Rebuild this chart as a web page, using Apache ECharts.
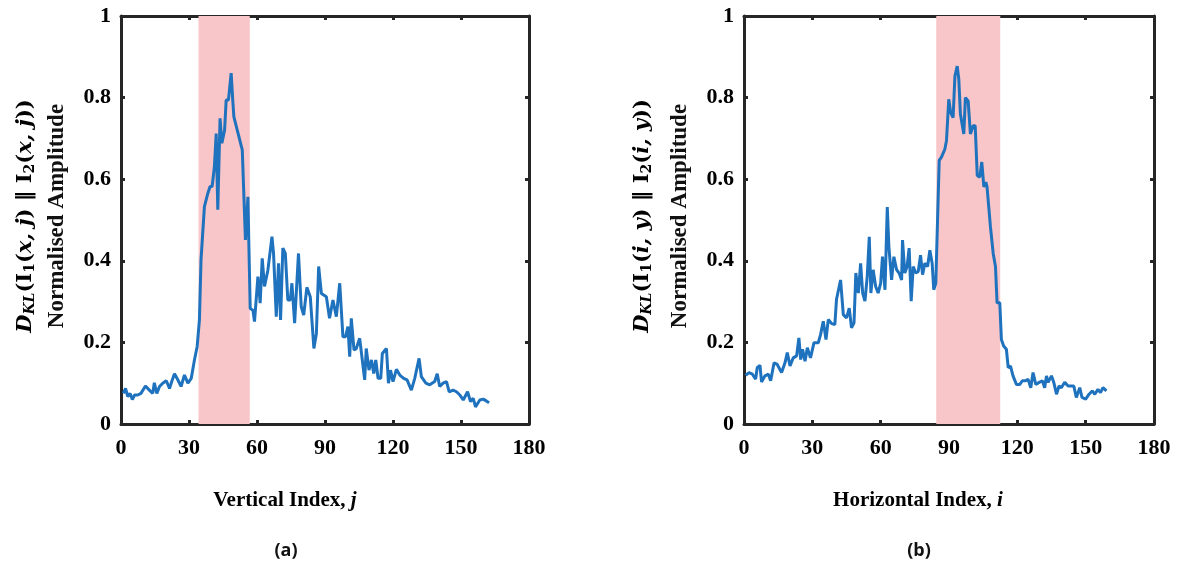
<!DOCTYPE html>
<html>
<head>
<meta charset="utf-8">
<script src="https://cdn.jsdelivr.net/npm/echarts@6/dist/echarts.min.js"></script>
<style>
html,body{margin:0;padding:0;background:#fff;}
#chart{width:1182px;height:567px;}
</style>
</head>
<body>
<div id="chart"></div>
<script>
// ---- data ----
const xTickInterval = 30;
const yTickInterval = 0.2;
const leftBand = [34.2, 56.8];
const rightBand = [84.4, 112.5];

// Panel (a): [vertical index j, normalised amplitude]
const leftSeries = [[1,0.075],[2,0.087],[3,0.067],[4,0.075],[5,0.06],[6,0.071],[7.4,0.071],[8.8,0.075],[10.8,0.093],[12.5,0.083],[14,0.075],[14.7,0.101],[15.8,0.075],[17,0.092],[18.4,0.1],[20,0.106],[21.4,0.087],[22.5,0.106],[23.6,0.123],[25,0.109],[26.5,0.092],[28,0.12],[29.5,0.1],[31,0.112],[32.4,0.157],[33.6,0.19],[34.6,0.255],[35.3,0.402],[36.8,0.533],[38.3,0.565],[39.3,0.582],[40.2,0.582],[41.2,0.63],[42,0.712],[42.7,0.525],[43.7,0.749],[44.5,0.688],[45.7,0.72],[46.4,0.794],[47.4,0.794],[48.6,0.86],[49.3,0.794],[49.8,0.753],[53.5,0.672],[54.9,0.451],[56,0.557],[56.4,0.443],[57,0.283],[58.2,0.279],[58.9,0.251],[60.4,0.361],[61.4,0.296],[62.3,0.406],[63.3,0.337],[64.8,0.377],[66.6,0.459],[67.3,0.418],[68.5,0.263],[69.5,0.394],[70.4,0.255],[71.4,0.431],[72.5,0.418],[73.6,0.304],[74.7,0.304],[75.4,0.345],[76.6,0.247],[78.3,0.418],[79.5,0.288],[80.6,0.267],[82,0.335],[83.5,0.312],[85.1,0.185],[86.2,0.222],[87.2,0.386],[88.4,0.32],[90.6,0.312],[92,0.259],[93.5,0.304],[95,0.263],[96.5,0.345],[97.9,0.214],[99.1,0.214],[100.1,0.239],[100.9,0.165],[101.6,0.259],[102.8,0.181],[103.8,0.185],[105.3,0.21],[107.5,0.108],[108.2,0.185],[109.4,0.132],[110.5,0.157],[111.5,0.124],[112.4,0.157],[113.4,0.112],[114.6,0.112],[115.3,0.173],[117.1,0.185],[118,0.1],[118.9,0.132],[120,0.104],[121.5,0.134],[123,0.12],[124.7,0.112],[126.2,0.108],[128.1,0.083],[129.6,0.112],[131.5,0.161],[132.5,0.116],[134.5,0.1],[136.2,0.096],[138.4,0.104],[139.5,0.123],[140.6,0.092],[142.1,0.1],[143.6,0.104],[144.8,0.079],[146.5,0.083],[148,0.079],[149.5,0.071],[151,0.059],[152.9,0.079],[154.2,0.055],[155.4,0.063],[156.4,0.042],[158.3,0.059],[159.8,0.061],[161.3,0.056],[162.4,0.052]];

// Panel (b): [horizontal index i, normalised amplitude]
const rightSeries = [[0.7,0.119],[2.2,0.126],[3.7,0.122],[5.1,0.11],[5.8,0.138],[7,0.144],[7.7,0.103],[9.2,0.118],[10.7,0.122],[11.7,0.106],[13.2,0.15],[14.6,0.146],[16.5,0.126],[18,0.15],[19,0.175],[20.2,0.142],[21.6,0.162],[23.1,0.167],[24.1,0.211],[24.9,0.158],[25.7,0.183],[26.8,0.154],[27.8,0.187],[29.2,0.162],[30.7,0.199],[32.6,0.199],[33.6,0.219],[34.8,0.252],[36,0.207],[37,0.256],[38.5,0.246],[39.9,0.244],[40.6,0.305],[42.4,0.353],[43.6,0.268],[45,0.26],[46.2,0.284],[47.2,0.236],[48.3,0.248],[49.1,0.37],[50.2,0.321],[51.2,0.394],[52.1,0.321],[53.1,0.301],[54.1,0.361],[55,0.459],[55.7,0.321],[56.7,0.378],[57.8,0.337],[58.9,0.321],[60,0.345],[60.8,0.41],[61.9,0.329],[62.9,0.532],[63.6,0.435],[64.8,0.353],[65.8,0.41],[67,0.378],[68.1,0.37],[69.2,0.353],[69.6,0.451],[70.6,0.37],[71.6,0.386],[72.5,0.431],[73.4,0.301],[74.3,0.386],[75.4,0.37],[76.5,0.374],[77.5,0.414],[78.4,0.366],[79.4,0.394],[80.6,0.386],[81.6,0.426],[82.6,0.394],[83.3,0.329],[84.2,0.345],[85.7,0.646],[86.7,0.654],[88.2,0.674],[88.9,0.695],[89.9,0.796],[90.7,0.764],[91.8,0.751],[92.6,0.853],[93.6,0.877],[94.3,0.845],[95,0.76],[96.5,0.711],[97.2,0.8],[98.4,0.792],[99.4,0.711],[100.6,0.731],[101.5,0.731],[102.4,0.609],[103.5,0.605],[104.4,0.642],[105.3,0.581],[106.2,0.593],[106.7,0.581],[108.2,0.483],[109.4,0.418],[110.4,0.386],[111.1,0.297],[112.3,0.297],[113,0.207],[114,0.191],[115.2,0.183],[116,0.138],[117,0.142],[118.1,0.118],[119.6,0.097],[121.1,0.097],[122.2,0.106],[123.7,0.106],[124.7,0.11],[125.9,0.089],[126.9,0.126],[128.1,0.097],[129.6,0.102],[131,0.106],[132,0.089],[132.8,0.118],[133.5,0.102],[135,0.118],[136,0.102],[137.2,0.073],[138.3,0.093],[139.3,0.089],[140.8,0.102],[142.3,0.093],[143.7,0.093],[144.8,0.093],[145.9,0.065],[147.4,0.089],[148.4,0.065],[150,0.061],[151.5,0.073],[152.9,0.081],[154,0.073],[155.4,0.085],[156.5,0.077],[157.6,0.089],[159.1,0.081]];

const xNames = ['Vertical Index, ', 'Horizontal Index, '];
const xVars = ['j', 'i'];
const panelLabels = ['(a)', '(b)'];

// ---- styling ----
const FRAME = '#262626';
const LINE = '#1f72bd';
const BAND = '#f8c5c8';
const SERIF = '"Liberation Serif", "Times New Roman", serif';
const MATH = '"DejaVu Serif", "Liberation Serif", serif';

const chart = echarts.init(document.getElementById('chart'), null, {renderer: 'canvas'});

function xAxes(gi) {
  return [
    {gridIndex: gi, type: 'value', position: 'bottom', min: 0, max: 180, interval: xTickInterval,
     axisLine: {show: true, onZero: false, lineStyle: {color: FRAME, width: 3}},
     axisTick: {show: true, inside: true, length: 4, lineStyle: {color: FRAME, width: 3}},
     axisLabel: {color: '#000', fontFamily: SERIF, fontWeight: 'bold', fontSize: 22, margin: 13},
     splitLine: {show: false}},
    {gridIndex: gi, type: 'value', position: 'top', min: 0, max: 180, interval: xTickInterval,
     axisLine: {show: true, onZero: false, lineStyle: {color: FRAME, width: 3}},
     axisTick: {show: true, inside: true, length: 4, lineStyle: {color: FRAME, width: 3}},
     axisLabel: {show: false}, splitLine: {show: false}}
  ];
}
function yAxes(gi) {
  return [
    {gridIndex: gi, type: 'value', position: 'left', min: 0, max: 1, interval: yTickInterval,
     axisLine: {show: true, onZero: false, lineStyle: {color: FRAME, width: 3}},
     axisTick: {show: true, inside: true, length: 4, lineStyle: {color: FRAME, width: 3}},
     axisLabel: {color: '#000', fontFamily: SERIF, fontWeight: 'bold', fontSize: 22, margin: 10,
       formatter: v => (v === 0 || v === 1) ? String(v) : v.toFixed(1)},
     splitLine: {show: false}},
    {gridIndex: gi, type: 'value', position: 'right', min: 0, max: 1, interval: yTickInterval,
     axisLine: {show: true, onZero: false, lineStyle: {color: FRAME, width: 3}},
     axisTick: {show: true, inside: true, length: 4, lineStyle: {color: FRAME, width: 3}},
     axisLabel: {show: false}, splitLine: {show: false}}
  ];
}

const richMath = {
  b: {fontFamily: MATH, fontWeight: 'bold', fontSize: 21, color: '#111'},
  bi: {fontFamily: MATH, fontWeight: 'bold', fontStyle: 'italic', fontSize: 21, color: '#111'},
  sbi: {fontFamily: MATH, fontWeight: 'bold', fontStyle: 'italic', fontSize: 14, color: '#111', verticalAlign: 'bottom', padding: [9, 0, 0, 0]},
  sb: {fontFamily: MATH, fontWeight: 'bold', fontSize: 14, color: '#111', verticalAlign: 'bottom', padding: [9, 0, 0, 0]}
};
function dklText(a, b) {
  return '{bi|D}{sbi|KL}{b|(I}{sb|1}{b|(}{bi|' + a + '}{b|) ‖ I}{sb|2}{b|(}{bi|' + b + '}{b|))}';
}

const graphics = [];
const panels = [
  {cx: 285, ly1: 26, ly2: 57, dkl: ['x, j', 'x, j']},
  {cx: 918, ly1: 643, ly2: 680, dkl: ['i, y', 'i, y']}
];
panels.forEach((p, k) => {
  graphics.push({type: 'text', x: p.cx, y: 501, style: {
    text: '{n|' + xNames[k] + '}{v|' + xVars[k] + '}',
    align: 'center', verticalAlign: 'middle',
    rich: {
      n: {fontFamily: SERIF, fontWeight: 'bold', fontSize: 21, color: '#111'},
      v: {fontFamily: SERIF, fontWeight: 'bold', fontStyle: 'italic', fontSize: 21, color: '#111'}
    }}});
  graphics.push({type: 'text', x: p.cx + 1, y: 551, style: {
    text: panelLabels[k], align: 'center', verticalAlign: 'middle',
    fontFamily: '"Open Sans", "Noto Sans", sans-serif', fontWeight: 'bold', fontSize: 18, fill: '#111'}});
  graphics.push({type: 'text', x: p.ly1, y: 216, rotation: Math.PI / 2, style: {
    text: dklText(p.dkl[0], p.dkl[1]), align: 'center', verticalAlign: 'middle', rich: richMath}});
  graphics.push({type: 'text', x: p.ly2, y: 216, rotation: Math.PI / 2, style: {
    text: 'Normalised Amplitude', align: 'center', verticalAlign: 'middle',
    fontFamily: SERIF, fontWeight: 'bold', fontSize: 23, fill: '#111'}});
});

function lineSeries(gi, data, band) {
  return {
    type: 'line', xAxisIndex: gi * 2, yAxisIndex: gi * 2, data: data,
    showSymbol: false, symbol: 'none', animation: false,
    lineStyle: {color: LINE, width: 3}, itemStyle: {color: LINE},
    markArea: {silent: true, itemStyle: {color: BAND, opacity: 1},
      data: [[{xAxis: band[0]}, {xAxis: band[1]}]]}
  };
}

chart.setOption({
  animation: false,
  backgroundColor: '#fff',
  grid: [
    {left: 121, right: 653, top: 16, height: 408, containLabel: false},
    {left: 744, right: 28, top: 16, height: 408, containLabel: false}
  ],
  xAxis: [...xAxes(0), ...xAxes(1)],
  yAxis: [...yAxes(0), ...yAxes(1)],
  series: [lineSeries(0, leftSeries, leftBand), lineSeries(1, rightSeries, rightBand)],
  graphic: graphics
});
</script>
</body>
</html>
